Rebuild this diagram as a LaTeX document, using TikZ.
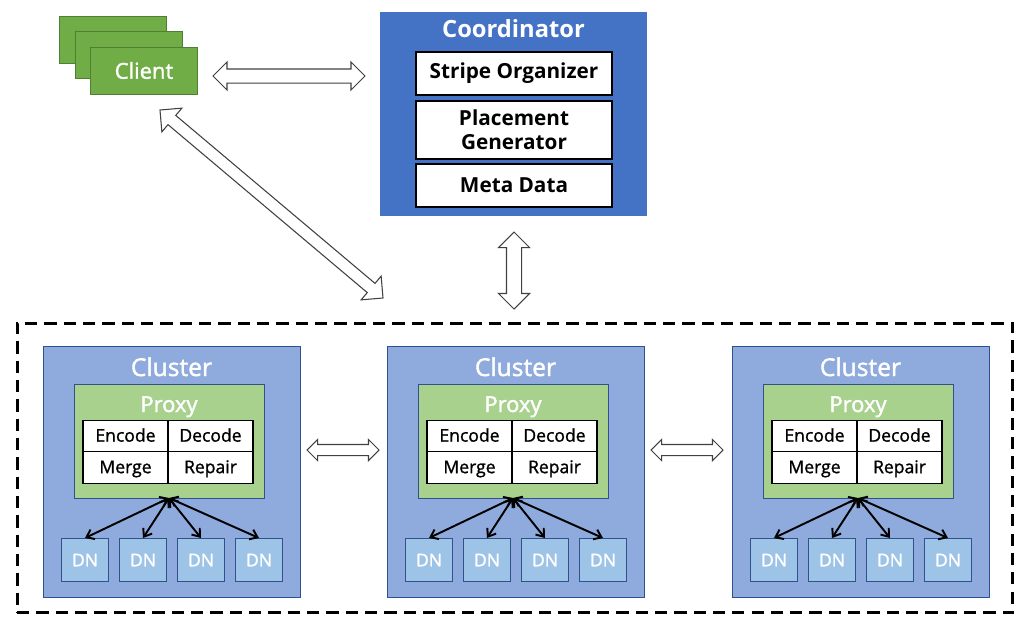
\documentclass[tikz,border=0pt]{standalone}
\usepackage{fontspec}
\setmainfont{Open Sans}
\newfontfamily\medfont{Open Sans}[FakeBold=1.6]
\newfontfamily\cellfont{Open Sans}[FakeBold=1.2]
\usetikzlibrary{arrows.meta, calc, positioning, shapes.arrows}
\definecolor{coordblue}{HTML}{4472C4}
\definecolor{clientgreen}{HTML}{70AD47}
\definecolor{clientline}{HTML}{507E32}
\definecolor{clusterblue}{HTML}{8FAADC}
\definecolor{proxygreen}{HTML}{A9D18E}
\definecolor{dnblue}{HTML}{9DC3E6}
\definecolor{boxline}{HTML}{2F528F}
\tikzset{
    client/.style={draw=clientline, fill=clientgreen, minimum width=2.14cm, minimum height=0.94cm,
        text=white, font=\medfont\fontsize{12.5}{14}\selectfont},
    coordbox/.style={draw=black, fill=white, line width=0.6pt, minimum width=3.92cm,
        font=\bfseries\fontsize{11.8}{13.6}\selectfont, align=center},
    cluster/.style={draw=boxline, fill=clusterblue, minimum width=5.14cm, minimum height=5.02cm},
    proxy/.style={draw=boxline, fill=proxygreen, minimum width=3.8cm, minimum height=2.28cm},
    cell/.style={draw=black, fill=white, line width=0.6pt, minimum width=1.7cm, minimum height=0.63cm,
        text height=1.55ex, text depth=0.35ex, font=\cellfont\fontsize{10}{12}\selectfont},
    dn/.style={draw=boxline, fill=dnblue, minimum width=0.94cm, minimum height=0.86cm,
        text height=1.55ex, text depth=0.1ex, text=white, font=\medfont\fontsize{10}{12}\selectfont},
    title/.style={text=white, anchor=base, font=\medfont\fontsize{14}{16}\selectfont},
    link/.style={{Straight Barb[length=4pt,width=6pt]}-{Straight Barb[length=4pt,width=6pt]}, line width=1.1pt},
    bigarrow/.style 2 args={to path={let \p1=($(\tikztotarget)-(\tikztostart)$),
        \n1={atan2(\y1,\x1)}, \n2={veclen(\x1,\y1)} in
        node[double arrow, draw=black!75, fill=white, line width=0.6pt, inner xsep=0pt, inner ysep=#1,
            text height=0pt, text depth=0pt, double arrow head extend=#2, minimum height=\n2, rotate=\n1]
            at ($(\tikztostart)!0.5!(\tikztotarget)$) {}}}
}
\begin{document}
\begin{tikzpicture}[x=0.02cm, y=-0.02cm, every node/.style={inner sep=0pt, outer sep=0pt}]
    \useasboundingbox (0, 0) rectangle (1029, 629);
    % client stack
    \node[client] (c3) at (113, 40) {};
    \node[client] (c2) at (128.5, 55) {};
    \node[client] (client) at (144, 70.5) {Client};
    % coordinator
    \node[fill=coordblue, minimum width=5.34cm, minimum height=4.08cm] (coord) at (513.5, 114) {};
    \node[title, font=\bfseries\fontsize{13.5}{16}\selectfont] (ctitle) at (513.5, 37) {Coordinator};
    \node[coordbox, minimum height=0.86cm] (stripe) at (514, 73.5) {Stripe Organizer};
    \node[coordbox, minimum height=1.16cm] (place) at (514, 130) {Placement\\Generator};
    \node[coordbox, minimum height=0.86cm] (meta) at (514, 185.5) {Meta Data};
    % group of clusters
    \node[draw, line width=1.7pt, dash pattern=on 7pt off 4pt, minimum width=19.92cm, minimum height=5.8cm] (zone) at (515, 468) {};
    \foreach \i/\dx in {1/0, 2/344, 3/689} {
        \node[cluster] (cl\i) at (171.5+\dx, 471.5) {};
        \node[title] (clt\i) at (171.5+\dx, 376) {Cluster};
        \node[proxy] (px\i) at (169+\dx, 441) {};
        \node[title, font=\medfont\fontsize{12.5}{14}\selectfont] (pxt\i) at (169+\dx, 412) {Proxy};
        \node[cell] (enc\i) at (125.5+\dx, 436) {Encode};
        \node[cell] (dec\i) at (210.5+\dx, 436) {Decode};
        \node[cell] (mrg\i) at (125.5+\dx, 467.5) {Merge};
        \node[cell] (rep\i) at (210.5+\dx, 467.5) {Repair};
        \foreach \j/\x in {1/85, 2/143, 3/201, 4/259} {
            \node[dn] (dn\i\j) at (\x+\dx, 559.5) {DN};
            \draw[link] (px\i.south) -- (dn\i\j.north);
        }
    }
    % big arrows
    \coordinate (ca) at (213, 76);
    \coordinate (cb) at (365, 76);
    \coordinate (da) at (160, 110);
    \coordinate (db) at (383, 298);
    \coordinate (va) at (514, 232);
    \coordinate (vb) at (514, 309);
    \coordinate (ha1) at (307, 450);
    \coordinate (hb1) at (379, 450);
    \coordinate (ha2) at (651, 450);
    \coordinate (hb2) at (723, 450);
    \path
    (ca) to[bigarrow={0.13cm}{0.14cm}] (cb)
    (da) to[bigarrow={0.11cm}{0.19cm}] (db)
    (va) to[bigarrow={0.14cm}{0.16cm}] (vb)
    (ha1) to[bigarrow={0.1cm}{0.1cm}] (hb1)
    (ha2) to[bigarrow={0.1cm}{0.1cm}] (hb2);
\end{tikzpicture}
\end{document}
